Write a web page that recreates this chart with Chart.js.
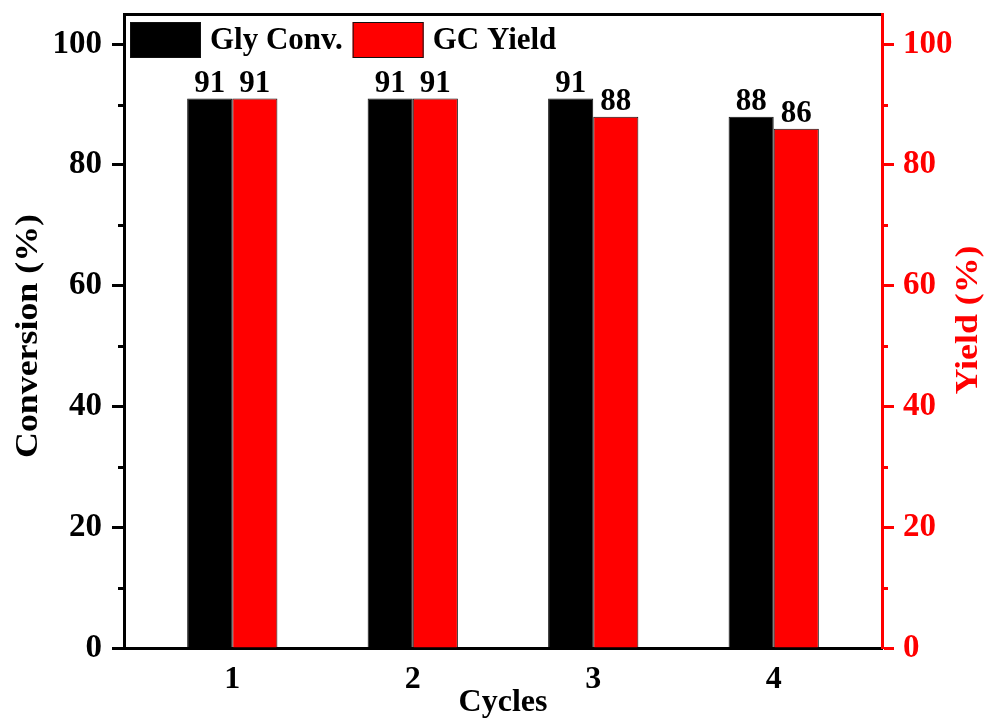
<!DOCTYPE html>
<html>
<head>
<meta charset="utf-8">
<title>Catalyst recycling</title>
<script src="https://cdn.jsdelivr.net/npm/chart.js@4"></script>
<style>
  html, body { margin: 0; padding: 0; background: #ffffff; }
  #wrap { width: 989px; height: 722px; }
</style>
</head>
<body>
<div id="wrap"><canvas id="chart" width="989" height="722"></canvas></div>
<script>
// Recycling runs and the measured values (%)
const cycles = [1, 2, 3, 4];
const glyConversion = [91, 91, 91, 88];
const gcYield = [91, 91, 88, 86];
const seriesNames = ['Gly Conv.', 'GC Yield'];
const majorTicks = [0, 20, 40, 60, 80, 100];
const minorTicks = [10, 30, 50, 70, 90];
const leftTitle = 'Conversion (%)';
const rightTitle = 'Yield (%)';
const bottomTitle = 'Cycles';

const FONT = '"Liberation Serif", "Times New Roman", serif';
const RED = '#ff0000';
const BLACK = '#000000';

Chart.defaults.font.family = FONT;
Chart.defaults.font.weight = 'bold';
Chart.defaults.color = BLACK;

const toPoints = vals => cycles.map((c, i) => ({ x: c, y: vals[i] }));

// Value written above every bar
const barValues = {
  id: 'barValues',
  afterDatasetsDraw(chart) {
    const ctx = chart.ctx;
    ctx.save();
    ctx.font = 'bold 31px ' + FONT;
    ctx.fillStyle = BLACK;
    ctx.textAlign = 'center';
    ctx.textBaseline = 'alphabetic';
    chart.data.datasets.forEach((ds, di) => {
      const meta = chart.getDatasetMeta(di);
      meta.data.forEach((bar, i) => {
        ctx.fillText(String(ds.data[i].y), bar.x, bar.y - 7);
      });
    });
    ctx.restore();
  }
};

// Legend laid out in one row inside the top-left corner of the plot
const insideLegend = {
  id: 'insideLegend',
  afterDraw(chart) {
    const ctx = chart.ctx;
    const area = chart.chartArea;
    const boxW = 71, boxH = 36;
    let x = area.left + 6;
    const y = area.top + 8;
    ctx.save();
    ctx.font = 'bold 31px ' + FONT;
    ctx.textAlign = 'left';
    ctx.textBaseline = 'middle';
    chart.data.datasets.forEach(ds => {
      ctx.fillStyle = ds.backgroundColor;
      ctx.fillRect(x, y, boxW, boxH);
      ctx.lineWidth = 1;
      ctx.strokeStyle = ds.borderColor;
      ctx.strokeRect(x + 0.5, y + 0.5, boxW - 1, boxH - 1);
      const tx = x + boxW + 9;
      ctx.fillStyle = BLACK;
      ctx.fillText(ds.label, tx, y + boxH / 2 + 1);
      x = tx + ctx.measureText(ds.label).width + 10;
    });
    ctx.restore();
  }
};

// Short minor ticks between the labelled ones, plus the rotated axis titles
const axisExtras = {
  id: 'axisExtras',
  afterDraw(chart) {
    const ctx = chart.ctx;
    const yl = chart.scales.y, yr = chart.scales.y2;
    ctx.save();
    ctx.lineWidth = 3;
    minorTicks.forEach(v => {
      const py = Math.round(yl.getPixelForValue(v)) + 0.5;
      ctx.strokeStyle = BLACK;
      ctx.beginPath(); ctx.moveTo(yl.right, py); ctx.lineTo(yl.right - 6, py); ctx.stroke();
      ctx.strokeStyle = RED;
      ctx.beginPath(); ctx.moveTo(yr.left, py); ctx.lineTo(yr.left + 6, py); ctx.stroke();
    });

    const drawTitle = (text, x, y, color) => {
      ctx.save();
      ctx.translate(x, y);
      ctx.rotate(-Math.PI / 2);
      ctx.scale(1.12, 1);
      ctx.font = 'bold 32px ' + FONT;
      ctx.fillStyle = color;
      ctx.textAlign = 'center';
      ctx.textBaseline = 'middle';
      ctx.fillText(text, 0, 0);
      ctx.restore();
    };
    drawTitle(leftTitle, 29, 336, BLACK);
    drawTitle(rightTitle, 969, 320, RED);
    ctx.restore();
  }
};

const yAxis = (position, color, width, padding) => ({
  type: 'linear',
  position,
  min: 0,
  max: 105,
  afterBuildTicks: s => { s.ticks = majorTicks.map(v => ({ value: v })); },
  afterFit: s => { s.width = width; s.paddingTop = 0; s.paddingBottom = 0; },
  ticks: { color, padding, font: { size: 33, weight: 'bold' } },
  grid: { drawOnChartArea: false, drawTicks: true, tickLength: 12, tickWidth: 3, tickColor: color },
  border: { display: true, color, width: 3 },
  title: { display: false }
});

new Chart(document.getElementById('chart'), {
  type: 'bar',
  data: {
    datasets: [
      {
        label: seriesNames[0],
        data: toPoints(glyConversion),
        xAxisID: 'x', yAxisID: 'y',
        backgroundColor: BLACK, borderColor: '#111111', borderWidth: 1,
        categoryPercentage: 0.5, barPercentage: 1
      },
      {
        label: seriesNames[1],
        data: toPoints(gcYield),
        xAxisID: 'x', yAxisID: 'y2',
        backgroundColor: RED, borderColor: '#111111', borderWidth: 1,
        categoryPercentage: 0.5, barPercentage: 1
      }
    ]
  },
  options: {
    responsive: false,
    animation: false,
    layout: { padding: 0 },
    scales: {
      x: {
        type: 'linear',
        position: 'bottom',
        min: 0.4, max: 4.6,
        offset: false,
        afterBuildTicks: s => { s.ticks = cycles.map(v => ({ value: v })); },
        afterFit: s => { s.height = 74; s.paddingLeft = 0; s.paddingRight = 0; },
        ticks: { padding: 13, color: BLACK, font: { size: 32, weight: 'bold' }, callback: v => String(v) },
        grid: { drawOnChartArea: false, drawTicks: false },
        border: { display: true, color: BLACK, width: 3 },
        title: { display: true, text: bottomTitle, color: BLACK, padding: 0, font: { size: 32, weight: 'bold' } }
      },
      xTop: {
        type: 'linear',
        position: 'top',
        min: 0.4, max: 4.6,
        afterFit: s => { s.height = 14; s.paddingLeft = 0; s.paddingRight = 0; },
        ticks: { display: false },
        grid: { drawOnChartArea: false, drawTicks: false },
        border: { display: true, color: BLACK, width: 3 }
      },
      y: yAxis('left', BLACK, 124, 10),
      y2: yAxis('right', RED, 107, 9)
    },
    plugins: {
      legend: { display: false },
      tooltip: { enabled: false }
    }
  },
  plugins: [barValues, insideLegend, axisExtras]
});
</script>
</body>
</html>
